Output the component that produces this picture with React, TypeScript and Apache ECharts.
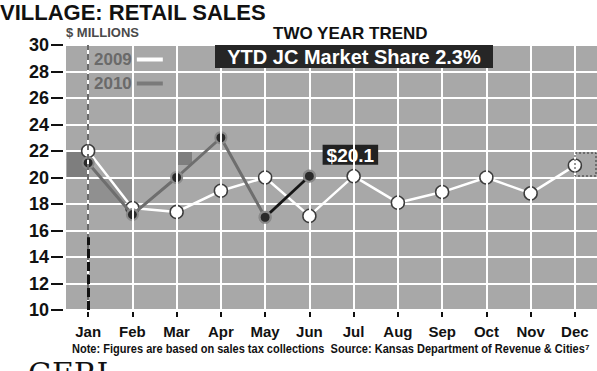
import React, { useEffect, useRef } from "react";
import * as echarts from "echarts";

const months = ["Jan", "Feb", "Mar", "Apr", "May", "Jun", "Jul", "Aug", "Sep", "Oct", "Nov", "Dec"];
const sales2009 = [22.0, 17.7, 17.4, 19.0, 20.0, 17.1, 20.1, 18.1, 18.9, 20.0, 18.8, 20.9];
const sales2010 = [21.1, 17.2, 20.0, 23.0, 17.0, 20.1];
const yMin = 10;
const yMax = 30;
const yStep = 2;
const titleText = "VILLAGE: RETAIL SALES";
const unitText = "$ MILLIONS";
const subtitleText = "TWO YEAR TREND";
const marketShare = 2.3;
const noteText =
  "Note: Figures are based on sales tax collections  Source: Kansas Department of Revenue & Cities\u2077";

const SANS = "'Liberation Sans', Arial, sans-serif";
const NARROW = "'Liberation Sans Narrow', 'Arial Narrow', 'Liberation Sans', sans-serif";

export default function App() {
  const ref = useRef<HTMLDivElement>(null);

  useEffect(() => {
    if (!ref.current) return;
    const chart = echarts.init(ref.current, null, { renderer: "svg" });
    const lastIdx = sales2010.length - 1;
    const data2010 = sales2010.map((v, i) =>
      i === lastIdx
        ? {
            value: v,
            label: {
              show: true,
              position: "top",
              distance: 5,
              offset: [41, 0],
              formatter: (p: any) => "$" + p.value.toFixed(1),
              backgroundColor: "#222",
              color: "#fff",
              fontFamily: SANS,
              fontWeight: "bold",
              fontSize: 19,
              padding: [1, 4, 0, 4],
            },
          }
        : v
    );
    const latestSegment = sales2010.map((v, i) => (i >= lastIdx - 1 ? v : null));

    chart.setOption({
      animation: false,
      grid: {
        left: 66,
        right: 0,
        top: 45,
        bottom: 61,
        show: true,
        backgroundColor: "#a8a8a8",
        borderWidth: 0,
        z: 0,
      },
      legend: {
        orient: "vertical",
        left: 89,
        top: 46,
        align: "right",
        icon: "rect",
        itemWidth: 26,
        itemHeight: 4,
        itemGap: 7,
        textStyle: { color: "#6a6a6a", fontWeight: "bold", fontSize: 17, fontFamily: SANS },
        data: [
          { name: "2009", itemStyle: { color: "#ffffff", borderWidth: 0 } },
          { name: "2010", itemStyle: { color: "#7a7a7a", borderWidth: 0 } },
        ],
      },
      xAxis: {
        type: "category",
        data: months,
        boundaryGap: true,
        offset: 2,
        z: 1,
        axisLine: { show: false },
        axisTick: { show: true, alignWithLabel: true, length: 5, lineStyle: { color: "#111", width: 2 } },
        axisLabel: { color: "#111", fontFamily: NARROW, fontWeight: "bold", fontSize: 15, margin: 12 },
        splitLine: { show: false },
      },
      yAxis: {
        type: "value",
        min: yMin,
        max: yMax,
        interval: yStep,
        offset: 3,
        z: 1,
        axisLine: { show: false },
        axisTick: { show: true, length: 12, lineStyle: { color: "#111", width: 2 } },
        axisLabel: { color: "#111", fontFamily: SANS, fontWeight: "bold", fontSize: 18, margin: 14 },
        splitLine: { show: true, lineStyle: { color: "#ffffff", width: 2 } },
      },
      series: [
        {
          name: "grid",
          type: "line",
          data: months.map(() => null),
          z: 1,
          silent: true,
          markLine: {
            silent: true,
            symbol: ["none", "none"],
            label: { show: false },
            lineStyle: { color: "#ffffff", width: 2, type: "solid" },
            data: [
              ...months.map((m) => ({ xAxis: m })),
              { xAxis: months[0], lineStyle: { color: "#6a6a6a", width: 2, type: [6, 4] } },
              [
                { coord: [months[0], yMin], lineStyle: { color: "#111", width: 3, type: [9, 4] } },
                { coord: [months[0], 15.5] },
              ],
            ],
          },
        },
        {
          name: "2009",
          type: "line",
          data: sales2009,
          z: 3,
          symbol: "circle",
          symbolSize: 13,
          lineStyle: { color: "#ffffff", width: 2.5 },
          itemStyle: { color: "#ffffff", borderColor: "#3c3c3c", borderWidth: 1.5 },
        },
        {
          name: "2010",
          type: "line",
          data: data2010,
          z: 4,
          symbol: "circle",
          symbolSize: 11,
          lineStyle: { color: "#6e6e6e", width: 3 },
          itemStyle: { color: "#2a2a2a", borderColor: "#8a8a8a", borderWidth: 2 },
        },
        {
          name: "latest",
          type: "line",
          data: latestSegment,
          z: 5,
          symbol: "circle",
          symbolSize: 11,
          lineStyle: { color: "#151515", width: 2.5 },
          itemStyle: { color: "#2a2a2a", borderColor: "#8a8a8a", borderWidth: 2 },
        },
      ],
      graphic: [
        { type: "rect", z: 0, shape: { x: 67, y: 152, width: 20, height: 26 }, style: { fill: "#7e7e7e" } },
        { type: "rect", z: 0, shape: { x: 88, y: 178, width: 44, height: 25 }, style: { fill: "#909090" } },
        { type: "rect", z: 0, shape: { x: 176, y: 152, width: 16, height: 13 }, style: { fill: "#7e7e7e" } },
        {
          type: "rect",
          z: 10,
          shape: { x: 575, y: 153, width: 21, height: 23 },
          style: { fill: "none", stroke: "#333", lineWidth: 1, lineDash: [2, 2] },
        },
        {
          type: "text",
          z: 10,
          left: 0,
          top: 1,
          style: { text: titleText, font: `bold 22px ${SANS}`, fill: "#111" },
        },
        {
          type: "text",
          z: 10,
          left: 66,
          top: 26,
          style: { text: unitText, font: `bold 13px ${SANS}`, fill: "#4a4a4a" },
        },
        {
          type: "text",
          z: 10,
          left: 273,
          top: 25,
          style: { text: subtitleText, font: `bold 17px ${SANS}`, fill: "#111" },
        },
        { type: "rect", z: 10, shape: { x: 215, y: 45, width: 278, height: 23 }, style: { fill: "#262626" } },
        {
          type: "text",
          z: 11,
          x: 354,
          y: 57,
          style: {
            text: `YTD JC Market Share ${marketShare}%`,
            font: `bold 20px ${SANS}`,
            fill: "#fff",
            align: "center",
            verticalAlign: "middle",
          },
        },
        {
          type: "text",
          z: 10,
          x: 72,
          y: 349,
          scaleX: 0.92,
          style: {
            text: noteText,
            font: `bold 12px ${NARROW}`,
            fill: "#111",
            align: "left",
            verticalAlign: "middle",
          },
        },
        {
          type: "text",
          z: 10,
          left: 28,
          top: 358,
          style: { text: "GERL", font: `30px 'DejaVu Serif', serif`, fill: "#111" },
        },
      ],
    });
    return () => chart.dispose();
  }, []);

  return <div ref={ref} style={{ position: "absolute", left: 0, top: 0, width: 597, height: 371 }} />;
}
